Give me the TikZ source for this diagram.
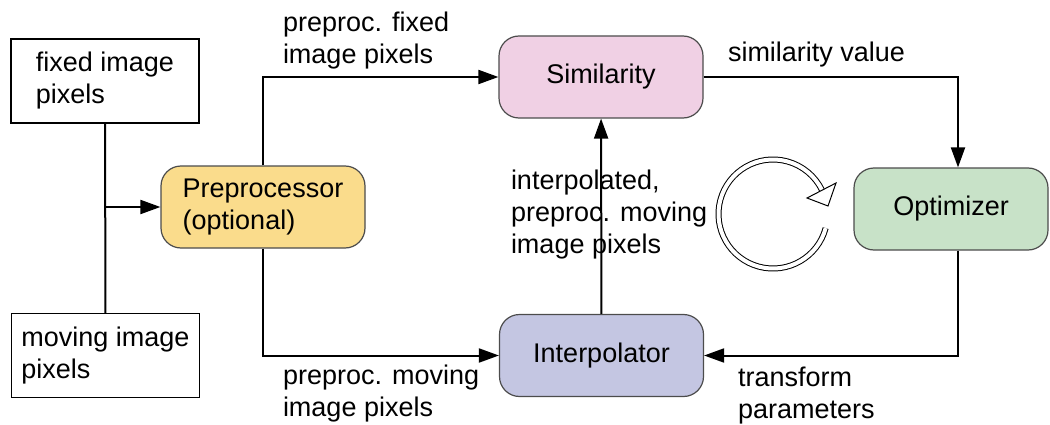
\documentclass[tikz,border=0pt]{standalone}
\usepackage{fontspec}
\setmainfont{Liberation Sans}
\usetikzlibrary{arrows.meta}

\definecolor{preyellow}{RGB}{250,220,140}
\definecolor{simpink}{RGB}{240,208,228}
\definecolor{intblue}{RGB}{196,198,226}
\definecolor{optgreen}{RGB}{200,226,200}

\begin{document}
\begin{tikzpicture}[x = 0.5pt, y = 0.5pt, > = {Triangle[length=10pt, width=7pt]}, line width = 1pt,
    font = \fontsize{13.5}{16}\selectfont,
    every node/.style = {align = left},
    inbox/.style = {draw, line width = 0.6pt, minimum width = 94pt, minimum height = 42pt},
    stage/.style = {draw = black!70, line width = 0.6pt, rounded corners = 10pt, minimum width = 102pt, minimum height = 41pt},
    lbl/.style = {inner sep = 0pt}]
    \useasboundingbox (0, 0) rectangle (1050, 424);

    % inputs
    \node[inbox] (fixed) at (105, 343) {fixed image\\pixels};
    \node[inbox] (moving) at (105.5, 68.5) {moving image\\pixels};

    % stages
    \node[stage, fill = preyellow] (pre) at (263, 217) {Preprocessor\\(optional)};
    \node[stage, fill = simpink] (sim) at (601, 347) {Similarity};
    \node[stage, fill = intblue] (int) at (601.5, 68.5) {Interpolator};
    \node[stage, fill = optgreen, minimum width = 97pt] (opt) at (951, 215) {Optimizer};

    \draw (fixed) -- (moving);
    \draw[->] (fixed.south |- pre.west) -- (pre.west);
    \draw[->] (pre.north) |- (sim.west);
    \draw[->] (pre.south) |- (int.west);
    \draw[->] (int) -- (sim);
    \draw[->] (sim.east) -| ([xshift = 3.5pt]opt.north);
    \draw[->] ([xshift = 3.5pt]opt.south) |- (int.east);

    % edge labels
    \node[lbl, anchor = south west] (fixlbl) at (282, 354) {preproc. fixed\\image pixels};
    \node[lbl, anchor = north west] (movlbl) at (282, 60) {preproc. moving\\image pixels};
    \node[lbl, anchor = base west] (simlbl) at (727, 362) {similarity value};
    \node[lbl, anchor = north west] (trflbl) at (737, 58) {transform\\parameters};
    \node[lbl, anchor = west] (intlbl) at (510, 209) {interpolated,\\preproc. moving\\image pixels};

    % iteration symbol
    \draw[line width = 0.5pt, double, double distance = 2pt] (773, 210) ++(-15:27.25pt) arc[start angle = -15, end angle = -334, radius = 27.25pt];
    \draw[line width = 0.5pt, fill = white] (828, 218) -- (807, 226) -- (836, 241) -- cycle;
    %\draw[red] (773, 210) circle (27.25pt);
\end{tikzpicture}
\end{document}
